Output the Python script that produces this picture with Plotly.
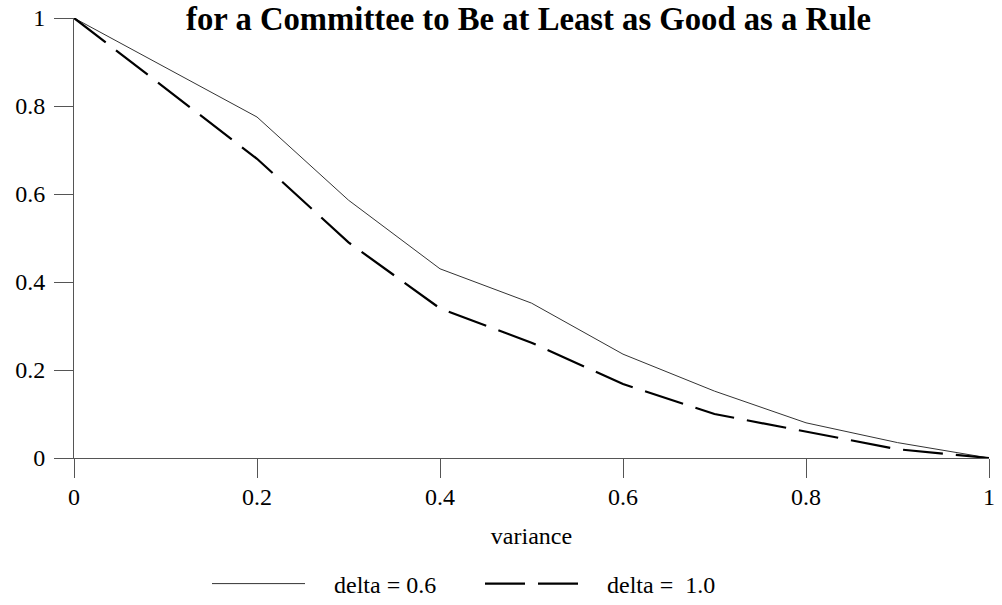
import plotly.graph_objects as go

variance = [0.0, 0.1, 0.2, 0.3, 0.4, 0.5, 0.6, 0.7, 0.8, 0.9, 1.0]
delta_06 = [1.0, 0.888, 0.775, 0.586, 0.43, 0.352, 0.236, 0.152, 0.08, 0.035, 0.0]
delta_10 = [1.0, 0.84, 0.68, 0.49, 0.34, 0.262, 0.168, 0.10, 0.06, 0.02, 0.0]

x_ticks = [0, 0.2, 0.4, 0.6, 0.8, 1]
x_ticklabels = ["0", "0.2", "0.4", "0.6", "0.8", "1"]
y_ticks = [0, 0.2, 0.4, 0.6, 0.8, 1]
y_ticklabels = ["0", "0.2", "0.4", "0.6", "0.8", "1"]

series_names = ["delta = 0.6", "delta =\u00a0 1.0"]
title_text = "<b>for a Committee to Be at Least as Good as a Rule</b>"
FONT = "Liberation Serif, Times New Roman, serif"

W, H = 1002, 605
PL, PR, PT, PB = 74, 989, 18, 458  # plot area in px
NB = "\u00a0\u00a0\u00a0\u00a0"

fig = go.Figure()
fig.add_trace(go.Scatter(
    x=variance, y=delta_06, mode="lines", name=NB + series_names[0],
    line=dict(color="#333333", width=1),
))
fig.add_trace(go.Scatter(
    x=variance, y=delta_10, mode="lines", name=NB + series_names[1],
    line=dict(color="#000000", width=2.2, dash="40px,13px"),
))

axis_common = dict(
    showgrid=False, zeroline=False, showline=True, linecolor="#555555", linewidth=1,
    ticks="outside", ticklen=19, tickcolor="#555555", tickwidth=1,
    tickfont=dict(family=FONT, size=24, color="#000000"),
    automargin=False, ticklabeloverflow="allow",
)

ph = PB - PT
fig.update_layout(
    width=W, height=H,
    margin=dict(l=PL, r=W - PR, t=PT, b=H - PB, autoexpand=False),
    paper_bgcolor="white", plot_bgcolor="white",
    title=dict(text=title_text, x=528.5 / W, xanchor="center",
               y=1 - 19 / H, yanchor="middle", yref="container",
               font=dict(family=FONT, size=32.7, color="#000000")),
    xaxis=dict(range=[0, 1], tickvals=x_ticks, ticktext=x_ticklabels,
               title=dict(text="variance", font=dict(family=FONT, size=24, color="#000000"), standoff=18),
               ticklabelstandoff=-2, **axis_common),
    yaxis=dict(range=[0, 1], tickvals=y_ticks, ticktext=y_ticklabels,
               ticklabelstandoff=4, **axis_common),
    legend=dict(orientation="h", x=(207 - PL) / (PR - PL), xanchor="left", y=-126 / ph, yanchor="middle",
                font=dict(family=FONT, size=24, color="#000000"),
                itemwidth=93, entrywidth=165, bgcolor="rgba(0,0,0,0)"),
    showlegend=True,
)

fig.write_html("out.html", config={"displayModeBar": False},
               post_script="document.body.style.margin='0px';")
